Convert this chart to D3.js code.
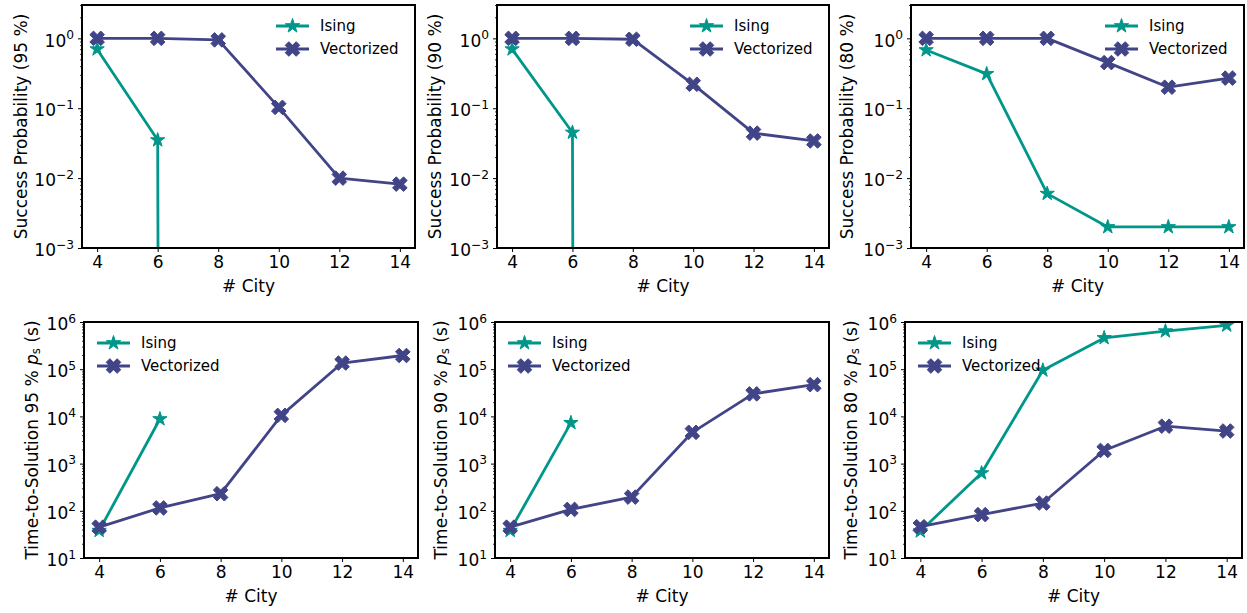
<!DOCTYPE html>
<html>
<head>
<meta charset="utf-8">
<script src="https://cdn.jsdelivr.net/npm/d3@7"></script>
<style>
  html, body { margin: 0; padding: 0; background: #fff; }
  svg { display: block; font-family: "DejaVu Sans", sans-serif; }
</style>
</head>
<body>
<svg id="chart" width="1247" height="613"></svg>
<script>
// Number of cities in each TSP instance
const cities = [4, 6, 8, 10, 12, 14];
const xTickLabels = ["4", "6", "8", "10", "12", "14"];

// Success probability (0 = never reached the target quality)
const spIsing95 = [0.70, 0.035, 0, 0, 0, 0];
const spVec95   = [1.0, 1.0, 0.95, 0.103, 0.010, 0.0082];
const spIsing90 = [0.70, 0.045, 0, 0, 0, 0];
const spVec90   = [1.0, 1.0, 0.97, 0.22, 0.044, 0.034];
const spIsing80 = [0.68, 0.31, 0.006, 0.002, 0.002, 0.002];
const spVec80   = [1.0, 1.0, 1.0, 0.45, 0.20, 0.27];

// Time-to-solution in seconds (null = never solved)
const ttsIsing95 = [38, 8800, null, null, null, null];
const ttsVec95   = [45, 115, 230, 10500, 135000, 195000];
const ttsIsing90 = [38, 7300, null, null, null, null];
const ttsVec90   = [45, 107, 195, 4600, 30000, 47000];
const ttsIsing80 = [37, 630, 95000, 460000, 640000, 850000];
const ttsVec80   = [46, 83, 146, 1900, 6200, 4900];

// Log-axis decade exponents
const spExponents  = [0, -1, -2, -3];
const ttsExponents = [1, 2, 3, 4, 5, 6];

const seriesNames = ["Ising", "Vectorized"];
const colors = { Ising: "#00968a", Vectorized: "#414487" };

const svg = d3.select("#chart");

const panels = [
  { id: "p1", box: [82, 5, 415, 248], kind: "sp", pct: "95", ising: spIsing95, vec: spVec95, legend: "right", ylx: 21 },
  { id: "p2", box: [497, 5, 829, 248], kind: "sp", pct: "90", ising: spIsing90, vec: spVec90, legend: "right", ylx: 435 },
  { id: "p3", box: [911, 5, 1244, 248], kind: "sp", pct: "80", ising: spIsing80, vec: spVec80, legend: "right", ylx: 847 },
  { id: "p4", box: [84, 322, 418, 558], kind: "tts", pct: "95", ising: ttsIsing95, vec: ttsVec95, legend: "left", ylx: 32 },
  { id: "p5", box: [495, 322, 829, 558], kind: "tts", pct: "90", ising: ttsIsing90, vec: ttsVec90, legend: "left", ylx: 441 },
  { id: "p6", box: [905, 322, 1242, 558], kind: "tts", pct: "80", ising: ttsIsing80, vec: ttsVec80, legend: "left", ylx: 851 }
];

const lineWidth = 2.8;

// matplotlib-like star ('*') path
function starPath(ms) {
  const R = ms / 2, r = R * 0.381966;
  const pts = [];
  for (let i = 0; i < 10; i++) {
    const rad = i % 2 === 0 ? R : r;
    const a = -Math.PI / 2 + i * Math.PI / 5;
    pts.push([rad * Math.cos(a), rad * Math.sin(a)]);
  }
  return "M" + pts.map(p => p[0].toFixed(2) + "," + p[1].toFixed(2)).join("L") + "Z";
}
// matplotlib-like filled X ('X') path
function xPath(ms) {
  const s = ms / 6;
  const base = [[-1,-3],[1,-3],[1,-1],[3,-1],[3,1],[1,1],[1,3],[-1,3],[-1,1],[-3,1],[-3,-1],[-1,-1]];
  const c = Math.SQRT1_2;
  const pts = base.map(([x, y]) => [(x * c - y * c) * s, (x * c + y * c) * s]);
  return "M" + pts.map(p => p[0].toFixed(2) + "," + p[1].toFixed(2)).join("L") + "Z";
}
const markerPath = { Ising: starPath(15), Vectorized: xPath(15.5) };

function supLabel(sel, base, exp) {
  sel.text(null);
  sel.append("tspan").text(base);
  sel.append("tspan").attr("font-size", "72%").attr("dy", "-0.62em").text(exp);
}

panels.forEach(p => {
  const [x0, y0, x1, y1] = p.box;
  const x = d3.scaleLinear().domain([3.5, 14.5]).range([x0, x1]);
  const yDomain = p.kind === "sp" ? [1e-3, 3] : [10, 1e6];
  const y = d3.scaleLog().domain(yDomain).range([y1, y0]);
  const exps = p.kind === "sp" ? spExponents : ttsExponents;
  const g = svg.append("g");

  // clip region for the data marks
  svg.append("clipPath").attr("id", "clip-" + p.id)
    .append("rect").attr("x", x0).attr("y", y0).attr("width", x1 - x0).attr("height", y1 - y0);

  // minor log ticks
  const minors = [];
  const lo = Math.log10(yDomain[0]), hi = Math.ceil(Math.log10(yDomain[1]));
  for (let e = lo; e < hi; e++) {
    for (let k = 2; k <= 9; k++) {
      const v = k * Math.pow(10, e);
      if (v <= yDomain[1]) minors.push(v);
    }
  }
  const minorAxis = g.append("g").attr("transform", `translate(${x0},0)`)
    .call(d3.axisLeft(y).tickValues(minors).tickSize(2).tickFormat(() => ""));
  minorAxis.select(".domain").remove();
  minorAxis.selectAll("line").attr("stroke", "#000").attr("stroke-width", 0.8);

  // major y ticks with superscripted labels
  const majors = exps.map(e => Math.pow(10, e));
  const yAxis = g.append("g").attr("transform", `translate(${x0},0)`)
    .call(d3.axisLeft(y).tickValues(majors).tickSize(4).tickPadding(4).tickFormat(() => ""));
  yAxis.select(".domain").remove();
  yAxis.selectAll("line").attr("stroke", "#000").attr("stroke-width", 1);
  yAxis.selectAll("text")
    .attr("font-size", 17).attr("fill", "#000").attr("font-family", "DejaVu Sans")
    .attr("dy", "0.45em")
    .each(function(d, i) {
      const e = exps[i];
      supLabel(d3.select(this), "10", e < 0 ? "\u2212" + Math.abs(e) : String(e));
    });

  // x axis
  const xAxis = g.append("g").attr("transform", `translate(0,${y1})`)
    .call(d3.axisBottom(x).tickValues(cities).tickSize(4).tickPadding(4)
      .tickFormat((d, i) => xTickLabels[i]));
  xAxis.select(".domain").remove();
  xAxis.selectAll("line").attr("stroke", "#000").attr("stroke-width", 1);
  xAxis.selectAll("text").attr("font-size", 17).attr("fill", "#000").attr("font-family", "DejaVu Sans");

  // axis titles
  g.append("text")
    .attr("x", (x0 + x1) / 2).attr("y", y1 + 44)
    .attr("text-anchor", "middle").attr("font-size", 17)
    .text("# City");

  const yl = g.append("text")
    .attr("transform", `translate(${p.ylx},${(y0 + y1) / 2}) rotate(-90)`)
    .attr("text-anchor", "middle").attr("dominant-baseline", "central").attr("font-size", 17);
  if (p.kind === "sp") {
    yl.text(`Success Probability (${p.pct} %)`);
  } else {
    yl.append("tspan").text(`Time-to-Solution ${p.pct} % `);
    yl.append("tspan").attr("font-style", "italic").text("p");
    yl.append("tspan").attr("font-size", "70%").attr("dy", "0.35em").text("s");
    yl.append("tspan").attr("dy", "-0.245em").text(" (s)");
  }

  // data lines and markers
  const plot = g.append("g").attr("clip-path", `url(#clip-${p.id})`);
  const yv = v => y(v > 0 ? v : 1e-300);
  const series = [
    { name: "Ising", values: p.ising },
    { name: "Vectorized", values: p.vec }
  ];
  series.forEach(s => {
    const pts = cities.map((c, i) => ({ c, v: s.values[i] }));
    const line = d3.line()
      .defined(d => d.v !== null)
      .x(d => x(d.c)).y(d => yv(d.v));
    plot.append("path").datum(pts)
      .attr("fill", "none").attr("stroke", colors[s.name])
      .attr("stroke-width", lineWidth).attr("stroke-linejoin", "round")
      .attr("d", line);
    plot.selectAll(null).data(pts.filter(d => d.v !== null && d.v > 0)).join("path")
      .attr("transform", d => `translate(${x(d.c)},${yv(d.v)})`)
      .attr("d", markerPath[s.name])
      .attr("fill", colors[s.name]).attr("stroke", colors[s.name])
      .attr("stroke-width", 1).attr("stroke-linejoin", "round");
  });

  // frame
  g.append("rect").attr("x", x0).attr("y", y0)
    .attr("width", x1 - x0).attr("height", y1 - y0)
    .attr("fill", "none").attr("stroke", "#000").attr("stroke-width", 2);

  // legend
  const lgX = p.legend === "right" ? x1 - 139 : x0 + 13;
  const lg = g.append("g").attr("transform", `translate(${lgX},${y0 + 21})`);
  seriesNames.forEach((name, i) => {
    const row = lg.append("g").attr("transform", `translate(0,${i * 23})`);
    row.append("line").attr("x1", 0).attr("x2", 33).attr("y1", 0).attr("y2", 0)
      .attr("stroke", colors[name]).attr("stroke-width", lineWidth);
    row.append("path").attr("transform", "translate(16.5,0)")
      .attr("d", markerPath[name]).attr("fill", colors[name])
      .attr("stroke", colors[name]).attr("stroke-width", 1);
    row.append("text").attr("x", 44).attr("y", 0)
      .attr("dominant-baseline", "central").attr("font-size", 15)
      .text(name);
  });
});
</script>
</body>
</html>
